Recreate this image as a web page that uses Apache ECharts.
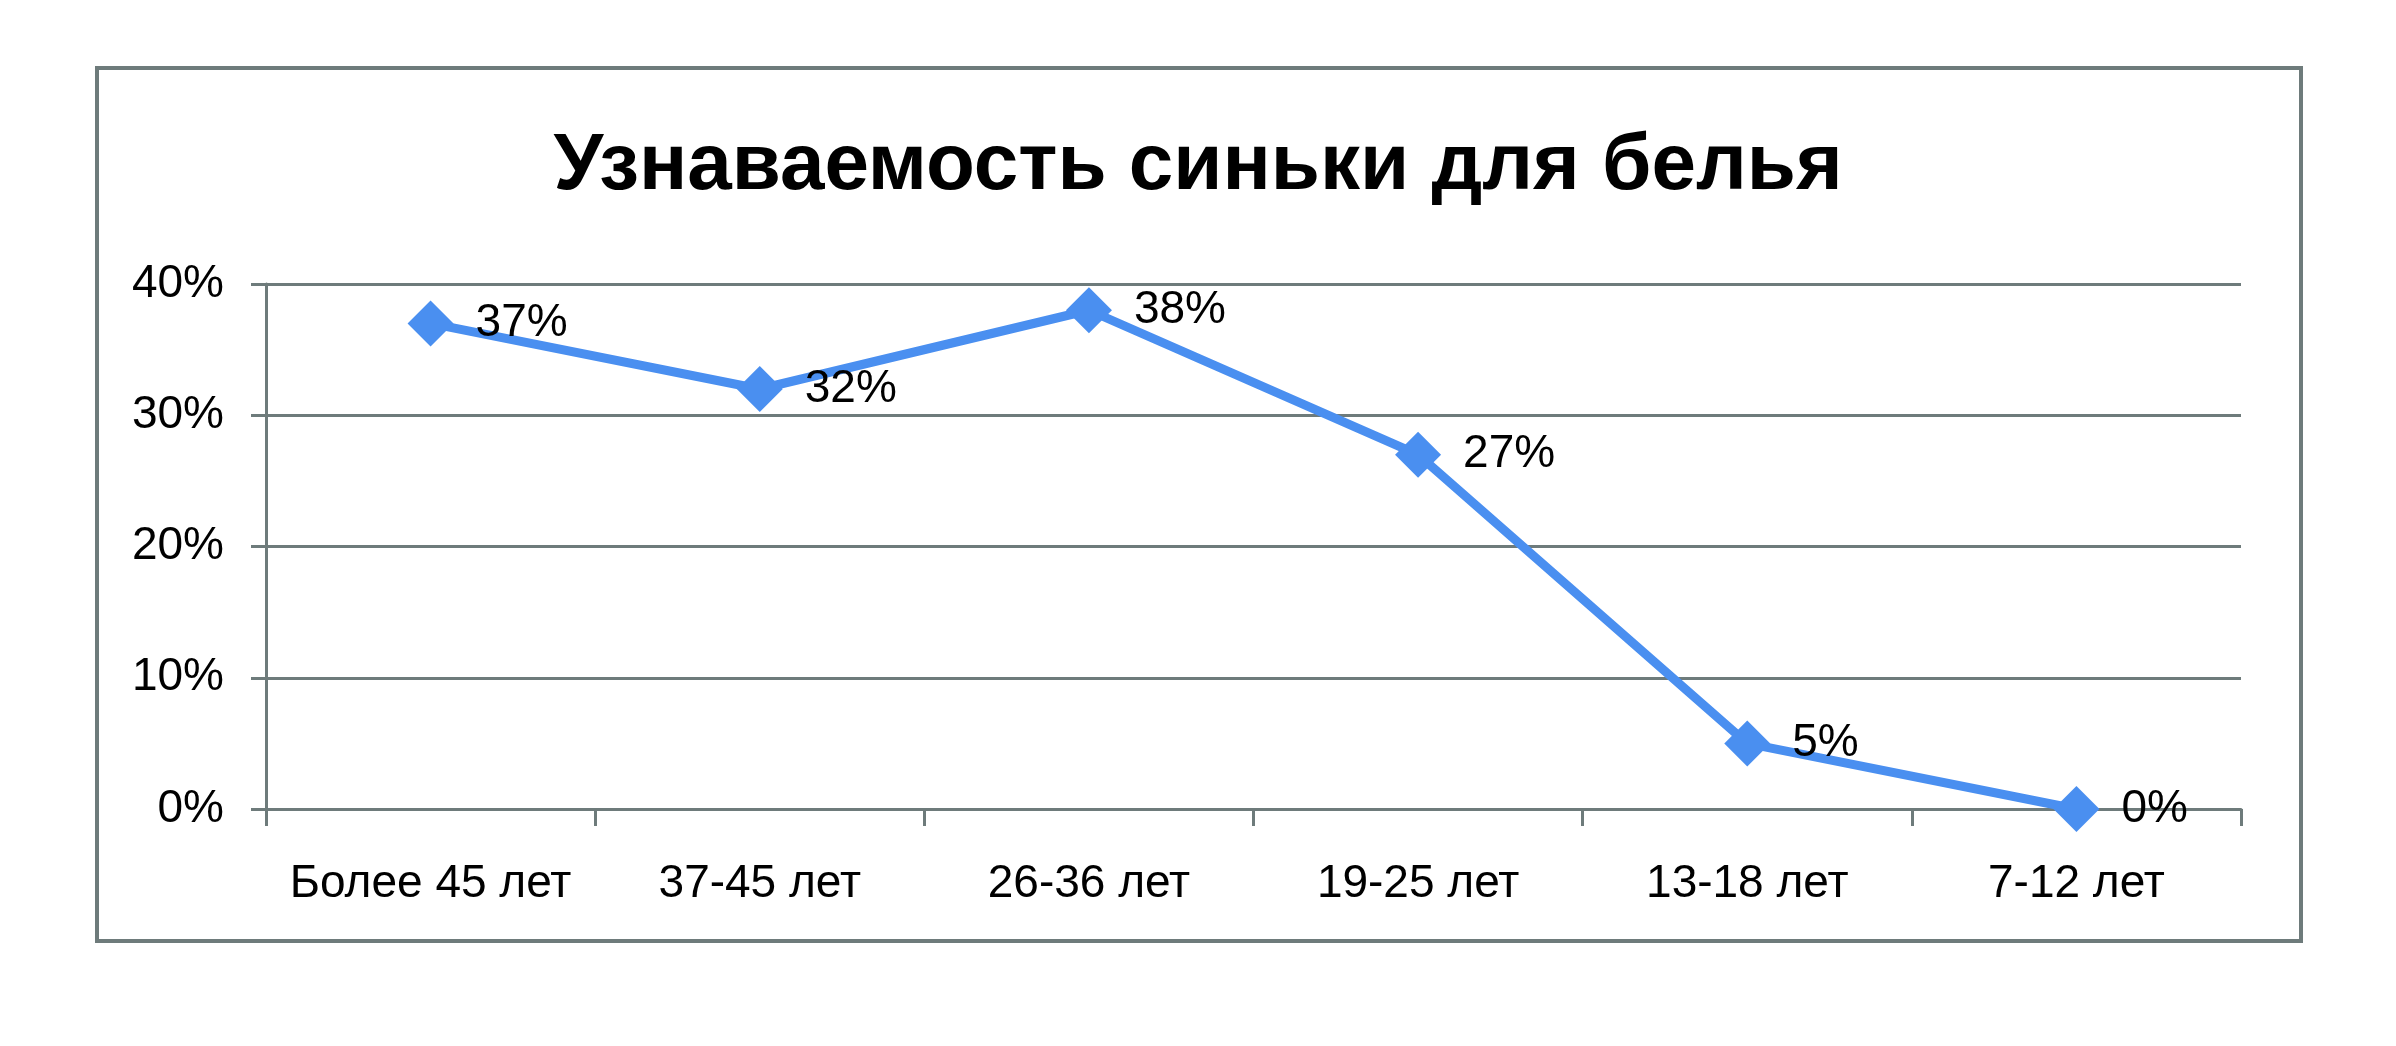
<!DOCTYPE html>
<html>
<head>
<meta charset="utf-8">
<script src="https://cdn.jsdelivr.net/npm/echarts@6/dist/echarts.min.js"></script>
<style>
html,body{margin:0;padding:0;background:#fff;}
#chart{width:2396px;height:1046px;}
</style>
</head>
<body>
<div id="chart"></div>
<script>
const titleText = 'Узнаваемость синьки для белья';
const categories = ['Более 45 лет', '37-45 лет', '26-36 лет', '19-25 лет', '13-18 лет', '7-12 лет'];
const values = [37, 32, 38, 27, 5, 0];
const yTicks = [0, 10, 20, 30, 40];

const gray = '#6E7B7B';
const blue = '#4A8FF0';
const labelFont = "'Liberation Sans', Arial, sans-serif";

const chart = echarts.init(document.getElementById('chart'), null, {renderer: 'canvas'});
chart.setOption({
  backgroundColor: '#ffffff',
  animation: false,
  title: {
    text: titleText,
    left: 'center',
    top: 122,
    textStyle: {
      fontFamily: "'Liberation Sans', sans-serif",
      fontWeight: 'bold',
      fontSize: 80,
      color: '#000000'
    }
  },
  graphic: [{
    type: 'rect',
    shape: {x: 97, y: 68, width: 2204, height: 873},
    style: {fill: null, stroke: gray, lineWidth: 4},
    silent: true
  }],
  grid: {left: 266, right: 155, top: 284, bottom: 237, containLabel: false},
  xAxis: {
    type: 'category',
    data: categories,
    boundaryGap: true,
    axisLine: {show: true, lineStyle: {color: gray, width: 3}},
    axisTick: {show: true, interval: 0, length: 17, lineStyle: {color: gray, width: 3}},
    axisLabel: {
      interval: 0,
      margin: 52,
      fontFamily: labelFont,
      fontSize: 46,
      color: '#000000'
    },
    splitLine: {show: false}
  },
  yAxis: {
    type: 'value',
    min: yTicks[0],
    max: yTicks[yTicks.length - 1],
    interval: 10,
    axisLine: {show: true, lineStyle: {color: gray, width: 3}},
    axisTick: {show: true, length: 15, lineStyle: {color: gray, width: 3}},
    axisLabel: {
      margin: 42,
      formatter: '{value}%',
      fontFamily: labelFont,
      fontSize: 46,
      color: '#000000'
    },
    splitLine: {show: true, lineStyle: {color: gray, width: 3}}
  },
  series: [{
    type: 'line',
    data: values,
    symbol: 'diamond',
    symbolSize: [46, 46],
    lineStyle: {color: blue, width: 9},
    itemStyle: {color: blue},
    label: {
      show: true,
      position: 'right',
      distance: 22,
      formatter: '{c}%',
      fontFamily: labelFont,
      fontSize: 46,
      color: '#000000'
    }
  }]
});
</script>
</body>
</html>
